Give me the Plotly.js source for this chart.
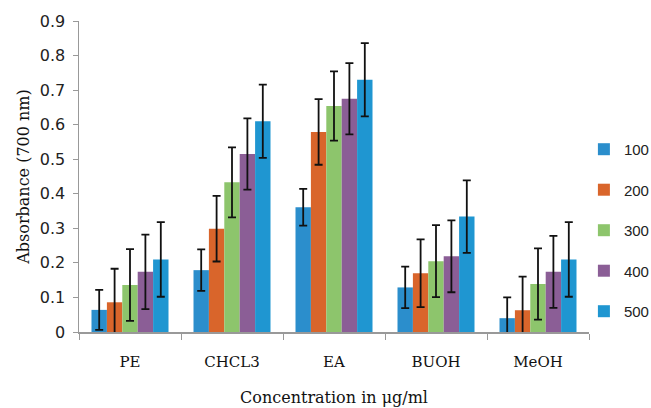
<!DOCTYPE html>
<html>
<head>
<meta charset="utf-8">
<script src="https://cdn.plot.ly/plotly-3.0.1.min.js"></script>
<style>html,body{margin:0;padding:0;background:#fff;}#chart{width:651px;height:408px;}</style>
</head>
<body>
<div id="chart"></div>
<script>
const categories = ["PE", "CHCL3", "EA", "BUOH", "MeOH"];
const seriesNames = ["100", "200", "300", "400", "500"];
const values100 = [0.064, 0.179, 0.361, 0.129, 0.040];
const values200 = [0.086, 0.299, 0.579, 0.170, 0.063];
const values300 = [0.136, 0.433, 0.654, 0.205, 0.139];
const values400 = [0.174, 0.515, 0.675, 0.219, 0.174];
const values500 = [0.210, 0.610, 0.730, 0.334, 0.210];
const errors100 = [0.058, 0.060, 0.053, 0.060, 0.060];
const errors200 = [0.097, 0.095, 0.095, 0.098, 0.097];
const errors300 = [0.104, 0.101, 0.100, 0.104, 0.103];
const errors400 = [0.108, 0.103, 0.103, 0.104, 0.104];
const errors500 = [0.108, 0.106, 0.106, 0.105, 0.108];
const yTickVals = [0, 0.1, 0.2, 0.3, 0.4, 0.5, 0.6, 0.7, 0.8, 0.9];
const yTickText = ["0", "0.1", "0.2", "0.3", "0.4", "0.5", "0.6", "0.7", "0.8", "0.9"];

const allValues = [values100, values200, values300, values400, values500];
const allErrors = [errors100, errors200, errors300, errors400, errors500];
const colors = ["#2B8ECC", "#D9652B", "#8DC56C", "#8B5E96", "#1F96D1"];

const traces = seriesNames.map((name, i) => ({
  type: "bar",
  name: name,
  x: categories,
  y: allValues[i],
  legendgroup: "g" + i,
  marker: {color: colors[i], line: {width: 0}},
  error_y: {type: "data", array: allErrors[i], visible: true, color: "#111", thickness: 1.8, width: 4}
}));

const serif = "DejaVu Serif, Georgia, serif";
const sans = "DejaVu Sans, Verdana, sans-serif";
const legendSans = "Liberation Sans, Arial, sans-serif";

const layout = {
  width: 651, height: 408,
  margin: {l: 79, r: 62, t: 21, b: 76, autoexpand: false},
  paper_bgcolor: "#fff", plot_bgcolor: "#fff",
  barmode: "group", bargap: 0.245, bargroupgap: 0,
  showlegend: true,
  legend: {x: 0.99, xanchor: "left", y: 0.64, yanchor: "top",
           font: {family: legendSans, size: 15, color: "#222"},
           tracegroupgap: 18, itemwidth: 30},
  xaxis: {
    type: "category",
    tickson: "boundaries",
    ticks: "outside", ticklen: 6, tickcolor: "#999", tickwidth: 1,
    showline: true, linecolor: "#999", linewidth: 1.5,
    showgrid: false, zeroline: false,
    tickfont: {family: serif, size: 15, color: "#111"},
    ticklabelstandoff: 15,
    title: {text: "Concentration in μg/ml", font: {family: serif, size: 16, color: "#111"}, standoff: 22}
  },
  yaxis: {
    range: [0, 0.9],
    tickvals: yTickVals, ticktext: yTickText,
    ticks: "outside", ticklen: 5, tickcolor: "#999", tickwidth: 1,
    showline: true, linecolor: "#999", linewidth: 1.5,
    showgrid: false, zeroline: false,
    tickfont: {family: sans, size: 16, color: "#222"},
    ticklabelstandoff: 4,
    title: {text: "Absorbance (700 nm)", font: {family: serif, size: 16, color: "#111"}, standoff: 6}
  }
};

Plotly.newPlot("chart", traces, layout, {displayModeBar: false, staticPlot: true});
</script>
</body>
</html>
